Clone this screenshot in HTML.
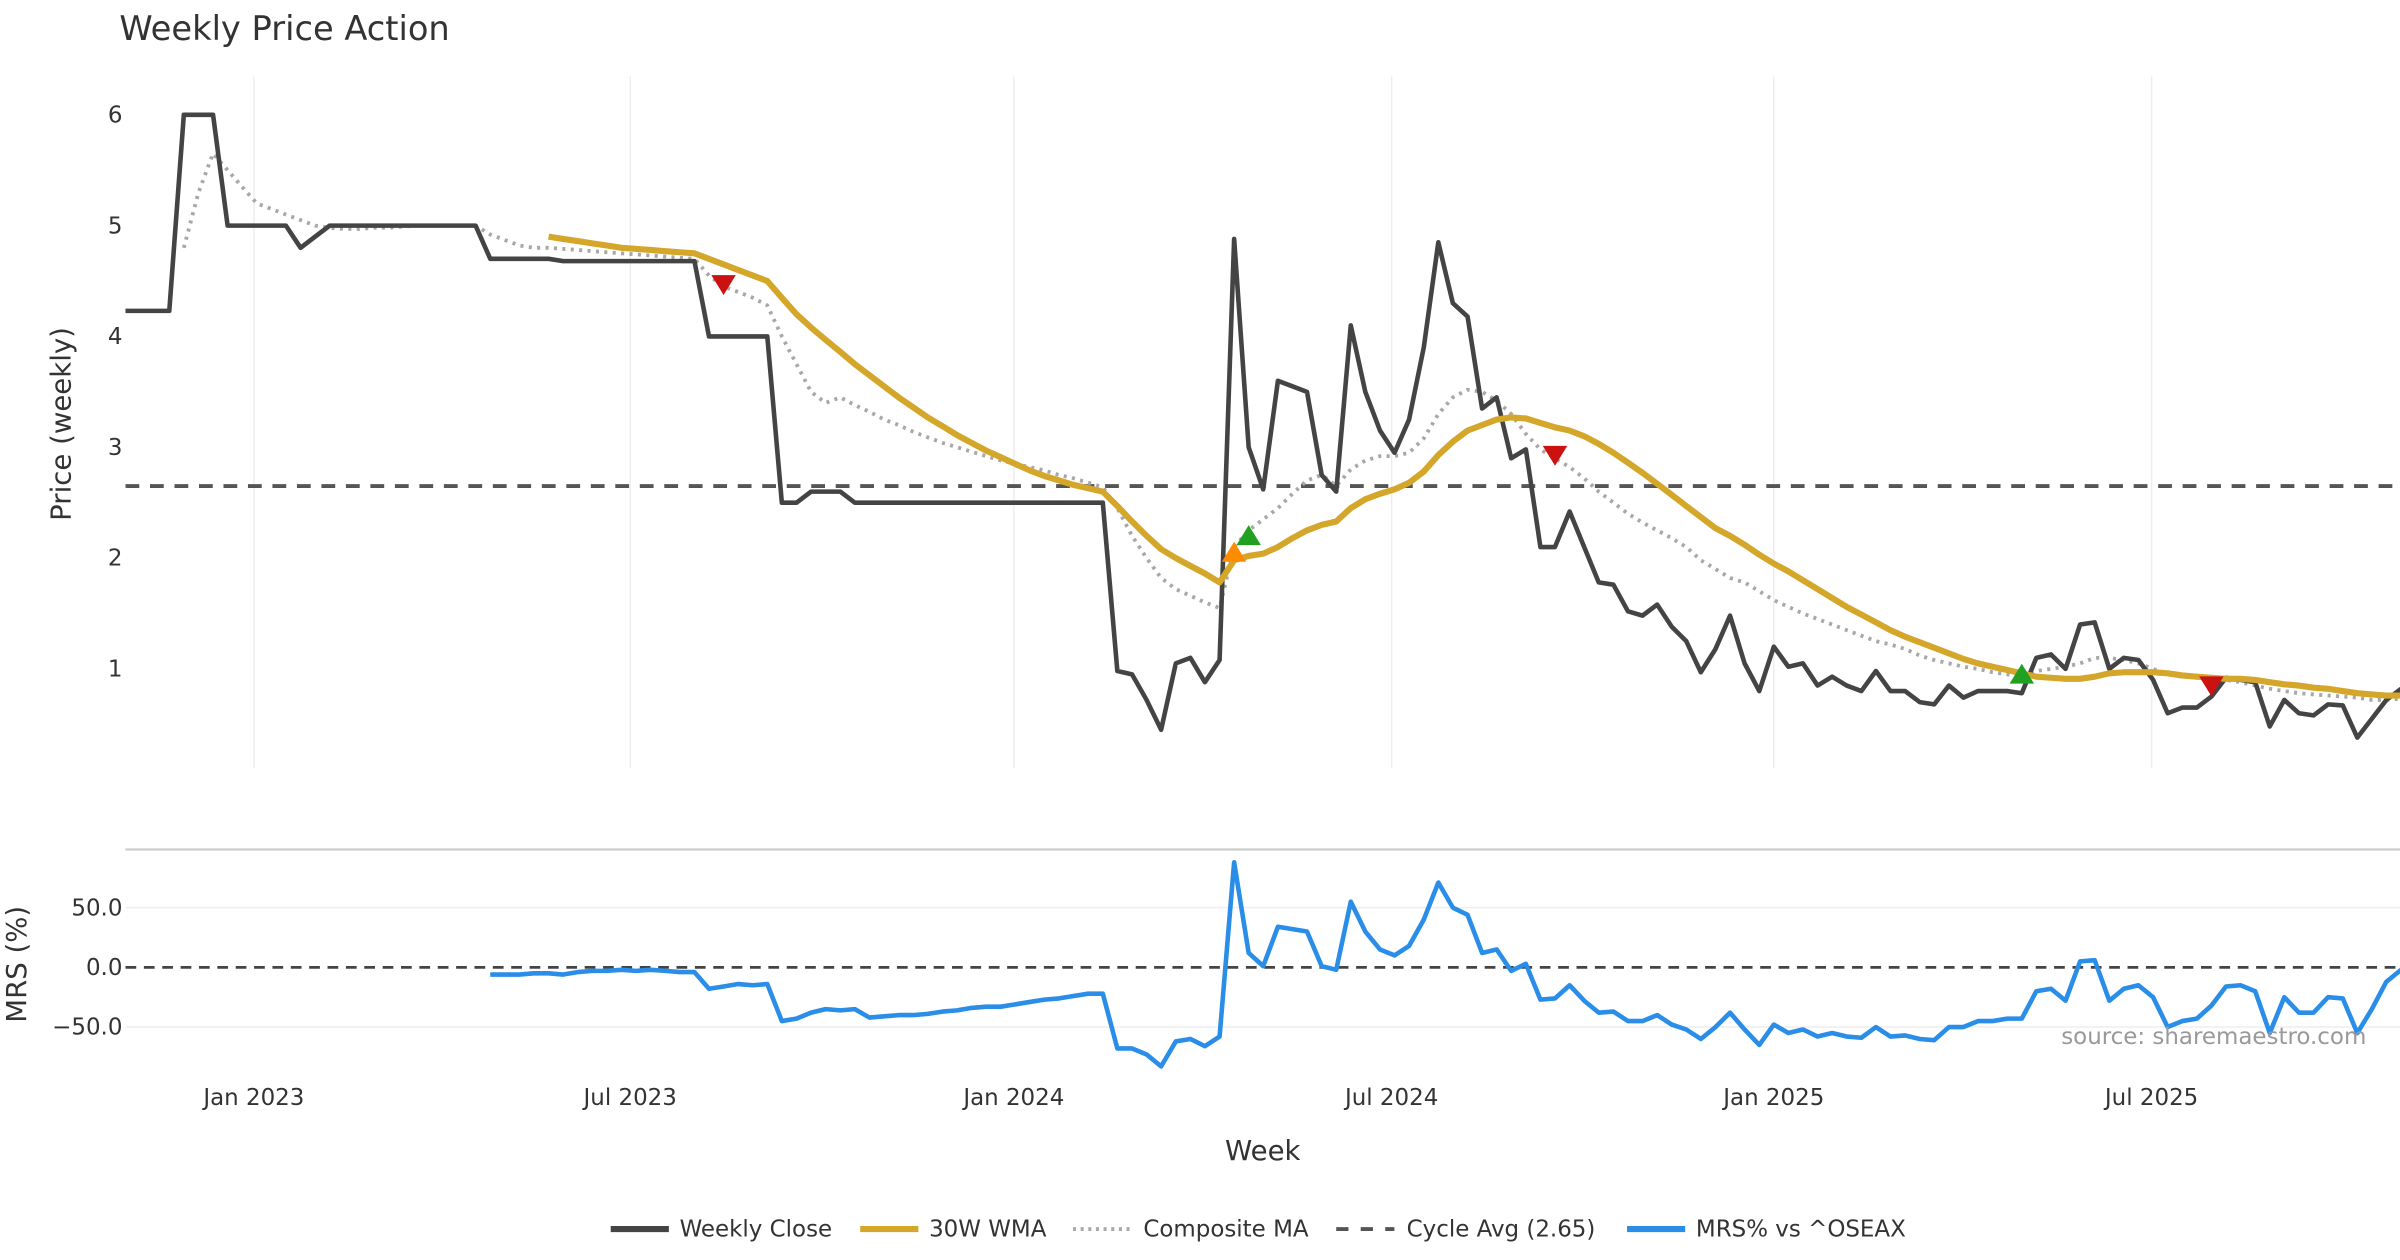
<!DOCTYPE html>
<html><head><meta charset="utf-8"><style>
html,body{margin:0;padding:0;background:#fff;}
svg{display:block;font-family:"DejaVu Sans","Liberation Sans",sans-serif;}
</style></head><body>
<svg id="chart" width="2400" height="1260" viewBox="0 0 1568 823.2" xmlns="http://www.w3.org/2000/svg">
<text x="78" y="26" font-size="22" fill="#333">Weekly Price Action</text>
<g id="grid"></g>
<g id="main"></g>
<g id="lower"></g>
<text transform="translate(46,277) rotate(-90)" text-anchor="middle" font-size="18" fill="#333">Price (weekly)</text>
<text transform="translate(17,630) rotate(-90)" text-anchor="middle" font-size="18" fill="#333">MRS (%)</text>
<text x="825" y="758" text-anchor="middle" font-size="18" fill="#333">Week</text>
<text x="1546" y="682" text-anchor="end" font-size="15" fill="#999">source: sharemaestro.com</text>
<g font-size="15" fill="#333">
 <g><line x1="399" y1="803" x2="437" y2="803" stroke="#444" stroke-width="4"/><text x="444" y="808">Weekly Close</text></g>
 <g><line x1="562" y1="803" x2="600" y2="803" stroke="#d4a62a" stroke-width="4"/><text x="607" y="808">30W WMA</text></g>
 <g><line x1="701" y1="803" x2="739" y2="803" stroke="#aaa" stroke-width="2.5" stroke-dasharray="2,3"/><text x="747" y="808">Composite MA</text></g>
 <g><line x1="873" y1="803" x2="911" y2="803" stroke="#555" stroke-width="2.5" stroke-dasharray="8,8"/><text x="919" y="808">Cycle Avg (2.65)</text></g>
 <g><line x1="1063" y1="803" x2="1101" y2="803" stroke="#2a8ee8" stroke-width="4"/><text x="1108" y="808">MRS% vs ^OSEAX</text></g>
</g>
</svg>
<script>
const closeVals=[4.23,4.23,4.23,4.23,6,6,6,5,5,5,5,5,4.8,4.9,5,5,5,5,5,5,5,5,5,5,5,4.7,4.7,4.7,4.7,4.7,4.68,4.68,4.68,4.68,4.68,4.68,4.68,4.68,4.68,4.68,4,4,4,4,4,2.5,2.5,2.6,2.6,2.6,2.5,2.5,2.5,2.5,2.5,2.5,2.5,2.5,2.5,2.5,2.5,2.5,2.5,2.5,2.5,2.5,2.5,2.5,
0.98,0.95,0.72,0.45,1.05,1.1,0.88,1.08,
4.88,3.0,2.62,3.6,3.55,3.5,2.75,2.6,4.1,3.5,3.15,2.95,3.25,3.9,4.85,4.3,4.18,3.35,3.45,2.9,2.98,2.1,2.1,2.42,2.1,
1.78,1.76,1.52,1.48,1.58,1.38,1.25,0.97,1.18,1.48,1.05,0.8,1.2,1.02,1.05,0.85,0.93,0.85,0.8,0.98,0.8,0.8,0.7,0.68,0.85,0.74,0.8,0.8,0.8,0.78,
1.1,1.13,1.0,1.4,1.42,1.0,1.1,1.08,0.9,0.6,0.65,0.65,0.75,0.92,0.9,0.88,0.48,0.72,0.6,0.58,0.68,0.67,0.38,0.55,0.72,0.82];
const wmaStart=29;
const wmaVals=[4.9,4.88,4.86,4.84,4.82,4.8,4.79,4.78,4.77,4.76,4.75,
4.7,4.65,4.6,4.55,4.5,
4.35,4.2,4.08,3.97,3.86,3.75,3.65,3.55,3.45,3.36,3.27,3.19,3.11,3.04,2.97,2.91,2.85,2.79,2.74,2.7,2.66,2.63,2.6,
2.47,2.33,2.2,2.08,2.0,1.93,1.86,1.78,
1.98,2.02,2.04,2.1,2.18,2.25,2.3,2.33,2.45,2.53,2.58,2.62,2.68,2.78,2.93,3.05,3.15,3.2,3.25,3.27,3.26,3.22,3.18,3.15,3.1,
3.03,2.95,2.86,2.77,2.67,2.57,2.47,2.37,2.27,2.2,2.12,2.03,1.95,1.88,1.8,1.72,1.64,1.56,1.49,1.42,1.35,1.29,1.24,1.19,1.14,1.09,1.05,1.02,0.99,0.96,
0.93,0.92,0.91,0.91,0.93,0.96,0.97,0.97,0.97,0.96,0.94,0.93,0.92,0.91,0.91,0.9,0.88,0.86,0.85,0.83,0.82,0.8,0.78,0.77,0.76,0.76];
const compStart=4;
const compVals=[4.8,5.3,5.65,5.5,5.35,5.2,5.15,5.1,5.05,5.0,
4.98,4.97,4.97,4.98,4.98,4.99,5.0,5.0,5.0,5.0,5.0,
4.92,4.87,4.82,4.8,4.8,4.79,4.78,4.77,4.76,4.75,4.74,4.73,4.72,4.71,4.7,
4.55,4.45,4.4,4.35,4.28,
4.0,3.75,3.5,3.4,3.45,3.38,3.32,3.25,3.2,3.14,3.09,3.04,3.0,2.96,2.92,2.88,2.85,2.82,2.79,2.75,2.72,2.68,2.64,
2.45,2.2,2.0,1.82,1.72,1.66,1.6,1.55,
2.1,2.25,2.35,2.45,2.58,2.7,2.75,2.65,2.8,2.88,2.92,2.92,2.95,3.08,3.3,3.45,3.52,3.5,3.42,3.3,3.12,2.98,2.9,2.82,2.72,
2.6,2.5,2.4,2.32,2.25,2.18,2.1,1.98,1.9,1.82,1.78,1.7,1.62,1.56,1.5,1.45,1.4,1.35,1.3,1.25,1.22,1.18,1.12,1.08,1.05,1.02,1.0,0.97,0.95,0.93,
0.98,1.0,1.02,1.05,1.1,1.1,1.08,1.05,1.0,0.95,0.93,0.92,0.9,0.9,0.88,0.85,0.82,0.8,0.78,0.77,0.76,0.75,0.74,0.72,0.72,0.73];
const mrsStart=25;
const mrsVals=[-6,-6,-6,-5,-5,-6,-4,-3,-3,-2,-3,-2,-3,-4,-4,
-18,-16,-14,-15,-14,
-45,-43,-38,-35,-36,-35,-42,-41,-40,-40,-39,-37,-36,-34,-33,-33,-31,-29,-27,-26,-24,-22,-22,
-68,-68,-73,-83,-62,-60,-66,-58,
88,12,1,34,32,30,1,-2,55,30,15,10,18,40,71,50,44,12,15,-3,3,-27,-26,-15,-28,
-38,-37,-45,-45,-40,-48,-52,-60,-50,-38,-52,-65,-48,-55,-52,-58,-55,-58,-59,-50,-58,-57,-60,-61,-50,-50,-45,-45,-43,-43,
-20,-18,-28,5,6,-28,-18,-15,-25,-50,-45,-43,-32,-16,-15,-20,-55,-25,-38,-38,-25,-26,-55,-35,-12,-2];
const cycleAvg=2.65;
const priceTicks=[1,2,3,4,5,6];
const mrsTicks=[50,0,-50];
const mrsTickLabels=["50.0","0.0","\u221250.0"];
const dateTickWeeks=[8.8,34.6,60.9,86.8,113.0,138.9];
const dateTickLabels=["Jan 2023","Jul 2023","Jan 2024","Jul 2024","Jan 2025","Jul 2025"];
const signalIdx=[41,76,77,98,130,143];
const signalVals=[4.47,2.05,2.2,2.93,0.95,0.85];
const signalTypes=["sell","warn","buy","sell","buy","sell"];

const NS="http://www.w3.org/2000/svg";
const X=i=>82+9.53*i;
const Y=v=>437-(v-1)*72.4;
const YM=v=>632-v*0.78;
function mk(tag,attrs,parent){const e=document.createElementNS(NS,tag);for(const k in attrs)e.setAttribute(k,attrs[k]);parent.appendChild(e);return e;}
const grid=document.getElementById('grid'),main=document.getElementById('main'),lower=document.getElementById('lower');
dateTickWeeks.forEach((w,k)=>{
 const l=mk('line',{x1:X(w),x2:X(w),y1:50,y2:502,stroke:'#eeeeee','stroke-width':1},grid);
 
 
 const t=mk('text',{x:X(w),y:722,'text-anchor':'middle','font-size':15,fill:'#333'},grid);
 t.textContent=dateTickLabels[k];
 
 
});
priceTicks.forEach(v=>{
 const t=mk('text',{x:80,y:Y(v)+5,'text-anchor':'end','font-size':15,fill:'#333'},grid);
 t.textContent=String(v);
 
 
});
const sep=mk('line',{x1:82,x2:1568,y1:555,y2:555,stroke:'#cccccc','stroke-width':1.5},grid);


mrsTicks.forEach((v,k)=>{
 if(v!==0){const g=mk('line',{x1:82,x2:1568,y1:YM(v),y2:YM(v),stroke:'#eeeeee','stroke-width':1},grid);
 
 }
 const t=mk('text',{x:80,y:YM(v)+5,'text-anchor':'end','font-size':15,fill:'#333'},grid);
 t.textContent=mrsTickLabels[k];
 
 
});
function pathFrom(vals,start,yf){return vals.map((v,j)=>(j?'L':'M')+X(start+j).toFixed(1)+','+yf(v).toFixed(1)).join('');}
const cyc=mk('line',{x1:82,x2:1568,y1:Y(cycleAvg),y2:Y(cycleAvg),stroke:'#555','stroke-width':2.5,'stroke-dasharray':'9,7'},main);


const comp=mk('path',{d:pathFrom(compVals,compStart,Y),fill:'none',stroke:'#a8a8a8','stroke-width':2.5,'stroke-dasharray':'2,3.5'},main);


const cl=mk('path',{d:pathFrom(closeVals,0,Y),fill:'none',stroke:'#444','stroke-width':3,'stroke-linejoin':'round'},main);


const wm=mk('path',{d:pathFrom(wmaVals,wmaStart,Y),fill:'none',stroke:'#d4a62a','stroke-width':4,'stroke-linejoin':'round'},main);


signalIdx.forEach((i,k)=>{
 const x=X(i),y=Y(signalVals[k]),s=8;
 const pts=signalTypes[k]==='sell'?`${x-s},${y-6} ${x+s},${y-6} ${x},${y+7}`:`${x-s},${y+6} ${x+s},${y+6} ${x},${y-7}`;
 const col=signalTypes[k]==='sell'?'#cc1111':signalTypes[k]==='buy'?'#22a022':'#ff8c00';
 const p=mk('polygon',{points:pts,fill:col},main);
 
 
});
const z=mk('line',{x1:82,x2:1568,y1:YM(0),y2:YM(0),stroke:'#444','stroke-width':1.8,'stroke-dasharray':'7,5'},lower);


const mr=mk('path',{d:pathFrom(mrsVals,mrsStart,YM),fill:'none',stroke:'#2a8ee8','stroke-width':3,'stroke-linejoin':'round'},lower);


</script>
</body></html>
